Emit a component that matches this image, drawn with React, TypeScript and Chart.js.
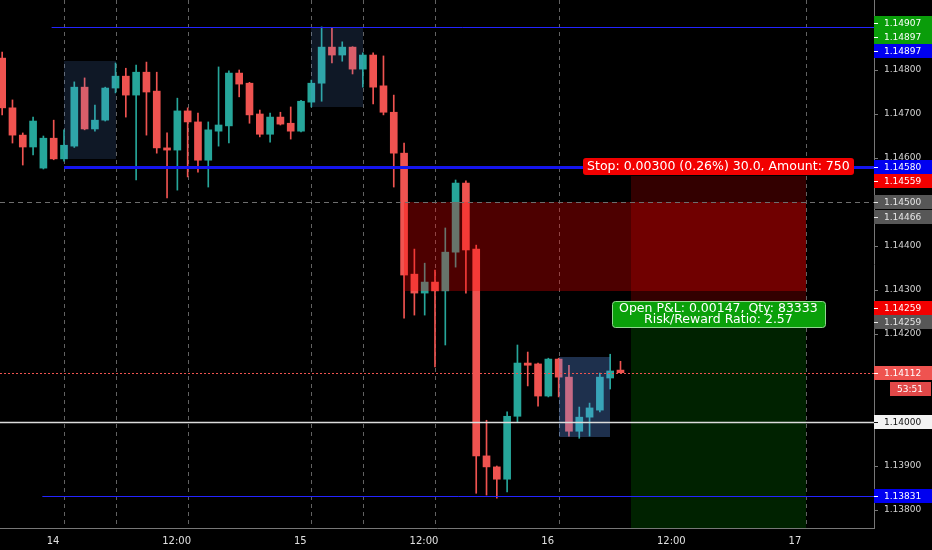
import React, { useEffect, useRef } from "react";
import { Chart, registerables } from "chart.js";

Chart.register(...registerables);

// Hourly EUR/USD candles, hour offsets counted from the 14th 00:00
const hours = [
  -6, -5, -4, -3, -2, -1, 0, 1, 2, 3, 4, 5, 6, 7, 8, 9, 10, 11, 12, 13, 14, 15, 16, 17, 18, 19, 20,
  21, 22, 23, 24, 25, 26, 27, 28, 29, 30, 31, 32, 33, 34, 35, 36, 37, 38, 39, 40, 41, 42, 43, 44,
  45, 46, 47, 48, 49, 50, 51, 52, 53, 54,
];
const opens = [
  1.14827, 1.14714, 1.14652, 1.14625, 1.14577, 1.14645, 1.14598, 1.14627, 1.14761, 1.14666, 1.14686,
  1.14759, 1.14786, 1.14743, 1.14795, 1.14752, 1.14623, 1.14618, 1.14707, 1.14682, 1.14595, 1.14661,
  1.14673, 1.14793, 1.1477, 1.147, 1.14654, 1.14693, 1.14679, 1.14661, 1.14727, 1.1477, 1.14852,
  1.14834, 1.14852, 1.14802, 1.14834, 1.14764, 1.14704, 1.14611, 1.14336, 1.14293, 1.14318, 1.14298,
  1.14386, 1.14543, 1.14393, 1.13923, 1.13898, 1.1387, 1.14013, 1.14134, 1.14132, 1.14059, 1.14143,
  1.14102, 1.13979, 1.14011, 1.14027, 1.141, 1.14118,
];
const highs = [
  1.14841, 1.14732, 1.14657, 1.14693, 1.1465, 1.14686, 1.14664, 1.14773, 1.14782, 1.1472, 1.14761,
  1.14816, 1.14804, 1.14811, 1.14818, 1.14795, 1.14657, 1.14736, 1.14714, 1.14702, 1.14682, 1.14807,
  1.14798, 1.148, 1.14772, 1.14709, 1.14702, 1.14704, 1.14716, 1.14731, 1.14777, 1.14898, 1.14897,
  1.14864, 1.14853, 1.14839, 1.14839, 1.14832, 1.14743, 1.14634, 1.14393, 1.14361, 1.14345, 1.14441,
  1.1455, 1.14548, 1.14402, 1.14004, 1.139, 1.14023, 1.14175, 1.14159, 1.14134, 1.14145, 1.14145,
  1.14129, 1.14034, 1.14043, 1.14111, 1.14154, 1.14138,
];
const lows = [
  1.14698, 1.14634, 1.14584, 1.14607, 1.14575, 1.14596, 1.14593, 1.14624, 1.14664, 1.14661, 1.14684,
  1.14748, 1.14693, 1.1455, 1.14652, 1.14611, 1.14509, 1.14527, 1.14557, 1.14568, 1.14534, 1.14627,
  1.14634, 1.14739, 1.14679, 1.14648, 1.14636, 1.14675, 1.14643, 1.14659, 1.14716, 1.14729, 1.14816,
  1.1482, 1.14791, 1.14761, 1.14723, 1.14698, 1.14534, 1.14236, 1.14243, 1.14243, 1.14125, 1.14175,
  1.14352, 1.14293, 1.13838, 1.13834, 1.13827, 1.13841, 1.14, 1.14082, 1.14036, 1.14057, 1.14057,
  1.13968, 1.13963, 1.13968, 1.14023, 1.14075, 1.14112,
];
const closes = [
  1.14714, 1.14652, 1.14625, 1.14684, 1.14645, 1.14598, 1.14629, 1.14761, 1.14666, 1.14686, 1.14759,
  1.14786, 1.14743, 1.14795, 1.1475, 1.14623, 1.14618, 1.14707, 1.14682, 1.14595, 1.14664, 1.14675,
  1.14793, 1.14768, 1.14698, 1.14654, 1.14693, 1.14677, 1.14661, 1.14729, 1.1477, 1.14852, 1.14834,
  1.14852, 1.14802, 1.14834, 1.14761, 1.14704, 1.14611, 1.14334, 1.14293, 1.14318, 1.14298, 1.14386,
  1.14543, 1.14391, 1.13923, 1.13898, 1.1387, 1.14013, 1.14134, 1.14129, 1.14059, 1.14143, 1.14102,
  1.13979, 1.14011, 1.14032, 1.14102, 1.14116, 1.14112,
];

// Time axis
const timeTicks = [0, 12, 24, 36, 48, 60, 72];
const timeLabels = ["14", "12:00", "15", "12:00", "16", "12:00", "17"];
const sessionHours = [0, 5, 12, 24, 29, 36, 48, 72];

// Price axis
const priceTicks = [
  1.138, 1.139, 1.14, 1.141, 1.142, 1.143, 1.144, 1.145, 1.146, 1.147, 1.148, 1.149,
];

// Highlight boxes (hour span, price span)
const boxStarts = [0, 24, 48];
const boxEnds = [5, 29, 53];
const boxTops = [1.1482, 1.14898, 1.14148];
const boxBottoms = [1.14598, 1.14716, 1.13966];
const boxShades = [0.15, 0.15, 0.3];

// Supply zone
const zoneStart = 33;
const zoneEnd = 72;
const zoneTop = 1.145;
const zoneBottom = 1.14297;

// Short position
const posStart = 55;
const posEnd = 72;
const entryPrice = 1.14259;
const stopPrice = 1.14559;
const targetPrice = 1.13488;
const stopText = "Stop: 0.00300 (0.26%) 30.0, Amount: 750";
const pnlText = ["Open P&L: 0.00147, Qty: 83333", "Risk/Reward Ratio: 2.57"];

// Horizontal levels
const topLevel = 1.14897;
const topLevelFrom = -1.2;
const keyLevel = 1.1458;
const keyLevelFrom = 0;
const lowLevel = 1.13831;
const lowLevelFrom = -2.1;
const roundLevel = 1.14;
const halfLevel = 1.145;
const lastPrice = 1.14112;
const countdown = "53:51";

// Right-axis price tags
const tagPrices = [
  1.14907, 1.14897, 1.14897, 1.1458, 1.14559, 1.145, 1.14466, 1.14259, 1.14259, 1.14112, 1.14,
  1.13831,
];
const tagKinds = [
  "green", "green", "blue", "blue", "red", "gray", "gray", "red", "gray", "last", "white", "blue",
];

const TEAL = "#26a69a";
const RED = "#ef5350";
const AXIS = "#777777";
const FONT = '"DejaVu Sans", Verdana, sans-serif';

const tagFill: Record<string, string> = {
  green: "#0a9d0a",
  blue: "#0000f0",
  red: "#f20000",
  gray: "#575757",
  last: "#ef5350",
  white: "#f2f2f2",
};

const drawings = {
  id: "drawings",
  beforeDatasetsDraw(chart: any) {
    const { ctx, chartArea: a, scales } = chart;
    const x = scales.x;
    ctx.save();
    ctx.strokeStyle = "#626262";
    ctx.lineWidth = 1;
    ctx.setLineDash([4, 4]);
    for (const h of sessionHours) {
      const px = Math.round(x.getPixelForValue(h)) + 0.5;
      ctx.beginPath();
      ctx.moveTo(px, a.top);
      ctx.lineTo(px, a.bottom);
      ctx.stroke();
    }
    ctx.restore();
  },
  afterDatasetsDraw(chart: any) {
    const { ctx, chartArea: a, scales } = chart;
    const x = scales.x;
    const y = scales.y;
    const fillSpan = (h1: number, h2: number, p1: number, p2: number, color: string) => {
      const x1 = Math.round(x.getPixelForValue(h1));
      const x2 = Math.round(x.getPixelForValue(h2));
      const y1 = Math.round(y.getPixelForValue(p1));
      const y2 = Math.round(y.getPixelForValue(p2));
      ctx.fillStyle = color;
      ctx.fillRect(Math.min(x1, x2), Math.min(y1, y2), Math.abs(x2 - x1), Math.abs(y2 - y1));
    };
    const hLine = (p: number, from: number | null, color: string, width: number, dash: number[]) => {
      const py = Math.round(y.getPixelForValue(p)) + (width % 2 ? 0.5 : 0);
      const x1 = from === null ? a.left : x.getPixelForValue(from);
      ctx.save();
      ctx.strokeStyle = color;
      ctx.lineWidth = width;
      ctx.setLineDash(dash);
      ctx.beginPath();
      ctx.moveTo(x1, py);
      ctx.lineTo(a.right, py);
      ctx.stroke();
      ctx.restore();
    };

    ctx.save();
    ctx.beginPath();
    ctx.rect(a.left, a.top, a.right - a.left, a.bottom - a.top);
    ctx.clip();

    boxStarts.forEach((s, i) => {
      fillSpan(s, boxEnds[i], boxTops[i], boxBottoms[i], `rgba(100,160,255,${boxShades[i]})`);
    });

    fillSpan(zoneStart, zoneEnd, zoneTop, zoneBottom, "rgba(255,0,0,0.3)");
    fillSpan(posStart, posEnd, stopPrice, entryPrice, "rgba(255,0,0,0.2)");
    fillSpan(posStart, posEnd, entryPrice, targetPrice, "rgba(0,200,0,0.17)");

    hLine(halfLevel, null, "#6e6e6e", 1, [5, 4]);
    hLine(roundLevel, null, "#dcdcdc", 1.5, []);
    hLine(lastPrice, null, "#ef5350", 1, [2, 2]);
    hLine(topLevel, topLevelFrom, "#2424ff", 1, []);
    hLine(lowLevel, lowLevelFrom, "#2424ff", 1, []);
    hLine(keyLevel, keyLevelFrom, "#1515ee", 3, []);

    ctx.restore();
  },
  afterDraw(chart: any) {
    const { ctx, chartArea: a, scales } = chart;
    const x = scales.x;
    const y = scales.y;

    // price tags on the right axis, stacked so they never overlap
    const tagH = 14;
    const order = tagPrices.map((p, i) => i).sort((i, j) => tagPrices[j] - tagPrices[i]);
    let prevBottom = -Infinity;
    let lastCenter = 0;
    ctx.save();
    ctx.font = `9px ${FONT}`;
    ctx.textBaseline = "middle";
    ctx.textAlign = "left";
    for (const i of order) {
      let cy = y.getPixelForValue(tagPrices[i]);
      if (cy - tagH / 2 < prevBottom) cy = prevBottom + tagH / 2;
      prevBottom = cy + tagH / 2;
      const kind = tagKinds[i];
      if (kind === "last") lastCenter = cy;
      ctx.fillStyle = tagFill[kind];
      ctx.fillRect(a.right, Math.round(cy - tagH / 2), chart.width - a.right, tagH);
      const fg = kind === "white" ? "#111111" : kind === "gray" ? "#e6e6e6" : "#ffffff";
      ctx.fillStyle = fg;
      ctx.fillRect(a.right, Math.round(cy), 4, 1);
      ctx.fillText(tagPrices[i].toFixed(5), a.right + 10, cy + 0.5);
    }
    // countdown to bar close
    const cdY = lastCenter + 16;
    ctx.fillStyle = "#e04848";
    ctx.fillRect(890, Math.round(cdY - 7), 41, 14);
    ctx.fillStyle = "#ffffff";
    ctx.textAlign = "center";
    ctx.fillText(countdown, 910, cdY + 0.5);
    ctx.restore();

    // position labels
    const cx = (x.getPixelForValue(posStart) + x.getPixelForValue(posEnd)) / 2;
    const stopY = y.getPixelForValue(stopPrice);
    const entryY = y.getPixelForValue(entryPrice);
    ctx.save();
    ctx.font = `12.5px ${FONT}`;
    ctx.textAlign = "center";
    ctx.textBaseline = "middle";
    const sw = ctx.measureText(stopText).width + 8;
    ctx.fillStyle = "#f20000";
    ctx.beginPath();
    ctx.roundRect(Math.round(cx - sw / 2), Math.round(stopY - 18), Math.round(sw), 17, 3);
    ctx.fill();
    ctx.fillStyle = "#ffffff";
    ctx.fillText(stopText, cx, stopY - 9);

    const pw = Math.max(...pnlText.map((t) => ctx.measureText(t).width)) + 14;
    const top = Math.round(entryY - 7);
    ctx.fillStyle = "#0aa00a";
    ctx.strokeStyle = "#8fd88f";
    ctx.lineWidth = 1;
    ctx.beginPath();
    ctx.roundRect(Math.round(cx - pw / 2) + 0.5, top + 0.5, Math.round(pw), 26, 3);
    ctx.fill();
    ctx.stroke();
    ctx.fillStyle = "#ffffff";
    ctx.fillText(pnlText[0], cx, top + 8);
    ctx.fillText(pnlText[1], cx, top + 19);
    ctx.restore();
  },
};

export default function App() {
  const canvasRef = useRef<HTMLCanvasElement | null>(null);

  useEffect(() => {
    document.body.style.margin = "0";
    document.body.style.background = "#000000";
    const canvas = canvasRef.current;
    if (!canvas) return;
    const colors = opens.map((o, i) => (closes[i] >= o ? TEAL : RED));
    const chart = new Chart(canvas, {
      type: "bar",
      data: {
        datasets: [
          {
            label: "body",
            data: hours.map((h, i) => ({
              x: h,
              y: [Math.min(opens[i], closes[i]), Math.max(opens[i], closes[i])],
            })) as any,
            backgroundColor: colors,
            borderWidth: 0,
            barThickness: 7,
            minBarLength: 1.5,
            grouped: false,
          },
          {
            label: "wick",
            data: hours.map((h, i) => ({ x: h, y: [lows[i], highs[i]] })) as any,
            backgroundColor: colors,
            borderWidth: 0,
            barThickness: 1,
            grouped: false,
          },
        ],
      },
      options: {
        responsive: false,
        animation: false,
        events: [],
        layout: { padding: 0 },
        plugins: { legend: { display: false }, tooltip: { enabled: false } },
        scales: {
          x: {
            type: "linear",
            min: -6.21,
            max: 78.6,
            offset: false,
            grid: { display: true, drawOnChartArea: false, drawTicks: false, color: AXIS },
            border: { display: true, color: AXIS, width: 1 },
            ticks: {
              color: "#e0e0e0",
              font: { family: FONT, size: 10 },
              padding: 7,
              labelOffset: -11,
              autoSkip: false,
              maxRotation: 0,
              callback: (_v: any, i: number) => timeLabels[i],
            },
            afterBuildTicks: (s: any) => {
              s.ticks = timeTicks.map((v) => ({ value: v }));
            },
            afterFit: (s: any) => {
              s.height = 22;
              s.paddingLeft = 0;
              s.paddingRight = 0;
              s.paddingTop = 0;
              s.paddingBottom = 0;
            },
          },
          y: {
            type: "linear",
            position: "right",
            min: 1.137591,
            max: 1.149591,
            grid: { drawOnChartArea: false, drawTicks: true, tickLength: 4, color: AXIS },
            border: { display: true, color: AXIS, width: 1 },
            ticks: {
              color: "#d4d4d4",
              font: { family: FONT, size: 9 },
              padding: 6,
              callback: (v: any) => Number(v).toFixed(5),
            },
            afterBuildTicks: (s: any) => {
              s.ticks = priceTicks.map((v) => ({ value: v }));
            },
            afterFit: (s: any) => {
              s.width = 58;
              s.paddingLeft = 0;
              s.paddingRight = 0;
              s.paddingTop = 0;
              s.paddingBottom = 0;
            },
          },
        },
      },
      plugins: [drawings],
    });
    return () => chart.destroy();
  }, []);

  return (
    <div style={{ position: "fixed", left: 0, top: 0, width: 932, height: 550, background: "#000000" }}>
      <canvas ref={canvasRef} width={932} height={550} style={{ display: "block" }} />
    </div>
  );
}
